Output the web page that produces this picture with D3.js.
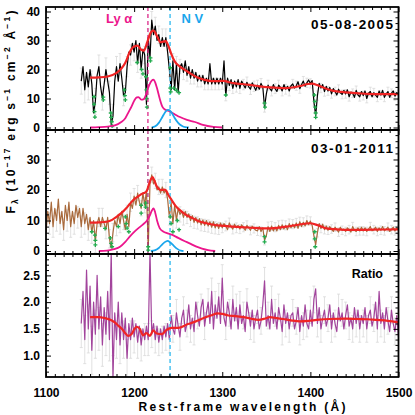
<!DOCTYPE html>
<html>
<head>
  <meta charset="utf-8">
  <script src="https://d3js.org/d3.v7.min.js"></script>
  <style>
    body { margin: 0; background: #fff; }
    svg text { font-family: "Liberation Sans", Arial, Helvetica, sans-serif; font-weight: bold; }
  </style>
</head>
<body>
  <svg id="chart" width="415" height="415"></svg>
  <script>
    // ---------------- data ----------------
    const xTicks = [1100, 1200, 1300, 1400, 1500];
    const yTicks05 = [0, 10, 20, 30, 40];
    const yTicks11 = [0, 10, 20, 30];
    const yTicksRatio = [1.0, 1.5, 2.0, 2.5];

    const lyaWave = 1215.67;
    const nvWave = 1240.81;

    // 2005 spectrum, 1140..1500 every 2 A
    const flux05 = [
      16, 21, 13, 19, 14, 20, 15, 5, 9, 18,
      21, 14, 10, 15, 20, 16, 12, 1, 4, 16,
      21, 16, 22, 17, 11, 12, 21, 26, 25, 29,
      26, 30, 22, 29, 20, 27, 25, 8, 31, 24,
      37, 32, 35, 30, 32, 28, 31, 28, 31, 26,
      20, 13, 23, 13, 22, 12, 21, 22, 19, 23,
      18, 21, 17, 20, 17, 19, 16, 18, 16, 18,
      15, 17, 15, 22, 15, 17, 15, 17, 15, 17,
      15, 23, 11, 17, 14.5, 16.5, 13.5, 16, 14, 16.5,
      13.5, 16, 14.8, 13.6, 15.6, 14, 13.2, 15.4, 14.2, 12.8,
      14.6, 13.2, 15.2, 14, 7, 11.5, 14.6, 13.4, 12.6, 14.8,
      13.4, 12.4, 14.6, 13.8, 12.6, 14.8, 13.2, 14.2, 12.6, 14.4,
      15, 13.6, 14.4, 15.8, 13.4, 14.8, 16, 14.2, 15.4, 16.4,
      15.2, 16.2, 9, 4, 11, 15.2, 13.6, 14.8, 12.4, 14.2,
      12.6, 13.8, 11.6, 13.4, 12.4, 11.2, 13.2, 12, 11.4, 12.8,
      11.6, 13, 10.6, 12.2, 11.8, 10.4, 12.8, 11.2, 10.6, 12.4,
      11, 12.6, 10, 11.8, 12.4, 10.6, 12, 11.2, 10.4, 12.6,
      11.2, 12.8, 10.4, 11.6, 12.4, 10.4, 11.8, 12.6, 10.8, 12, 11.2
    ];
    // 2011 spectrum, 1100..1500 every 2 A
    const flux11 = [
      6, 13, 9, 16, 8, 14, 10, 17, 9, 13,
      7, 15, 10, 16, 8, 13, 9, 15, 11, 14,
      8, 14, 9, 12, 7, 11, 6, 10, 3, 9,
      11, 8, 11, 9, 7, 11, 4, 1, 6, 10,
      8, 12, 9, 13, 10, 7, 12, 8, 16, 14,
      18, 15, 19, 16, 14, 19, 15, 20, 1, 22,
      25, 22, 23, 20, 21, 19, 21, 19, 20, 17,
      11, 16, 9, 15, 10, 14, 12, 13, 11, 13,
      11, 12.2, 10, 11.6, 9.4, 11, 9.2, 10.6, 8.6, 10.2,
      8.4, 10, 8.2, 9.6, 7.8, 9.6, 7.6, 9, 7.4, 9.2,
      7.6, 9, 8.2, 7, 9.2, 8, 7.2, 8.8, 7.6, 8.4,
      7.2, 8.6, 7.8, 6.8, 8.4, 7.6, 6.8, 8.2, 7.4, 6.8,
      6.6, 8, 6.4, 7.6, 3.5, 5, 8, 6.4, 8.2, 6.6,
      7.8, 6.6, 8.4, 7, 8.6, 7.2, 8.4, 7, 9, 7.6,
      8.8, 7.6, 9.2, 7.4, 9.6, 8, 9.4, 8.2, 10, 8.6,
      9.8, 8.4, 5, 2, 6, 9, 7.4, 8.8, 7, 8.2,
      6.8, 8, 7.2, 6.4, 7.8, 7, 6.2, 7.8, 6.8, 7.2,
      6.4, 7.6, 7, 6.2, 8, 6.8, 6.4, 7.6, 6.6, 7.8,
      6.6, 7.6, 6.4, 7.2, 8, 6.6, 7, 7.8, 6.4, 7.6,
      6.8, 8, 6.6, 7.2, 7.8, 6.4, 7, 7.8, 6.6, 7.6, 7
    ];
    // ratio 2011/2005, 1140..1500 every 2 A
    const ratio = [
      1.6, 2.2, 1.3, 2.6, 1.5, 2.3, 1.1, 2.0, 1.4, 2.5,
      1.5, 2.1, 1.2, 1.9, 1.4, 2.2, 1.3, 2.95, 0.6, 1.8,
      1.3, 2.0, 1.2, 1.8, 1.3, 1.7, 0.95, 1.6, 1.3, 1.7,
      1.35, 1.6, 1.25, 1.55, 1.2, 1.5, 1.3, 1.55, 1.3, 2.95,
      1.4, 1.6, 1.3, 1.55, 1.25, 1.5, 1.3, 1.55, 1.35, 1.6,
      1.3, 1.75, 1.5, 1.4, 1.8, 1.55, 1.35, 1.7, 1.85, 1.45,
      1.6, 1.95, 1.5, 1.7, 1.45, 2.0, 1.75, 1.55, 1.9, 2.05,
      1.55, 1.8, 2.0, 1.6, 2.2, 1.5, 1.95, 1.7, 2.1, 1.6,
      2.45, 1.7, 1.55, 2.0, 1.8, 1.5, 2.05, 1.65, 1.9, 1.5,
      1.95, 1.6, 1.75, 1.45, 2.0, 1.8, 1.55, 1.85, 1.5, 1.7,
      1.85, 1.5, 1.65, 1.95, 2.4, 1.55, 1.75, 1.5, 2.05, 1.6,
      1.8, 1.5, 1.9, 1.7, 1.45, 1.95, 1.6, 1.8, 1.5, 1.75,
      1.8, 1.5, 1.65, 1.9, 1.45, 1.75, 1.55, 1.95, 1.6, 1.5,
      1.85, 1.55, 2.05, 2.25, 1.6, 1.9, 1.5, 1.7, 1.85, 1.55,
      1.7, 1.95, 1.5, 1.8, 1.6, 1.45, 1.9, 1.65, 1.8, 1.5,
      1.75, 1.95, 1.55, 1.7, 1.5, 1.9, 1.6, 1.85, 1.5, 1.75,
      1.6, 1.9, 1.5, 1.75, 1.85, 1.55, 1.7, 2.0, 1.5, 2.2,
      1.6, 1.8, 1.5, 1.9, 1.65, 1.45, 1.85, 1.6, 1.45, 1.75, 1.35
    ];

    // errors per 20 A bin
    const err05 = [4.5, 4, 3.5, 3, 3, 2.5, 2, 2, 1.8, 1.8, 1.7, 1.7, 1.6, 1.6, 1.5, 1.5, 1.5, 1.5, 1.5];
    const err11 = [3.5, 3.5, 3.5, 3, 3, 2.5, 2.5, 2.5, 2, 2, 1.6, 1.5, 1.5, 1.5, 1.5, 1.4, 1.4, 1.4, 1.4, 1.4, 1.4];
    const errRatio = [0.45, 0.4, 0.35, 0.3, 0.25, 0.25, 0.25, 0.25, 0.25, 0.25, 0.25, 0.25, 0.25, 0.25, 0.25, 0.25, 0.25, 0.25, 0.3];

    // red model fits
    const fitWave05 = [1150, 1160, 1170, 1180, 1186, 1190, 1195, 1200, 1204, 1208, 1211, 1215, 1219, 1222, 1226, 1230, 1233, 1236, 1239, 1242, 1246, 1252, 1258, 1264, 1272, 1280, 1288, 1296, 1302, 1308, 1315, 1322, 1331, 1340, 1350, 1362, 1373, 1382, 1390, 1397, 1402, 1408, 1416, 1425, 1435, 1445, 1455, 1465, 1480, 1500];
    const fitFlux05 = [17.2, 17.3, 17.6, 18.8, 20.5, 22.3, 26.0, 27.9, 28.2, 26.8, 26.5, 29.5, 32.8, 33.4, 31.5, 29.4, 29.6, 29.8, 28.0, 25.5, 22.8, 21.0, 19.8, 18.6, 17.2, 16.4, 16.0, 16.0, 16.1, 15.6, 15.2, 15.0, 14.7, 14.3, 13.9, 13.7, 13.6, 13.9, 14.4, 15.0, 15.1, 14.6, 13.6, 12.7, 12.3, 12.0, 11.8, 11.6, 11.5, 11.5];
    const fitWave11 = [1150, 1160, 1169, 1175, 1180, 1186, 1191, 1195, 1199, 1203, 1207, 1211, 1214, 1217, 1219, 1221, 1223, 1225.5, 1228, 1231, 1234, 1236, 1239, 1242.6, 1247, 1252, 1258, 1267, 1275, 1282, 1290, 1298, 1312, 1330, 1350, 1362, 1373, 1388, 1399, 1408, 1418, 1430, 1445, 1470, 1500];
    const fitFlux11 = [9.3, 9.4, 9.6, 10.2, 11.2, 12.6, 14.0, 15.4, 16.7, 17.6, 18.4, 19.0, 19.5, 22.0, 23.5, 24.2, 23.0, 21.3, 20.3, 20.0, 20.1, 19.9, 18.3, 16.7, 14.8, 13.4, 12.0, 10.7, 9.6, 9.1, 8.6, 8.3, 8.0, 7.7, 7.4, 7.6, 8.0, 8.7, 9.1, 8.5, 7.4, 7.1, 6.9, 7.0, 7.1];
    const fitWaveRatio = [1150, 1160, 1167, 1173, 1178, 1182, 1186, 1190, 1193, 1197, 1200, 1203, 1206.5, 1210, 1214, 1218, 1221.6, 1225, 1231, 1236.8, 1242, 1250, 1261, 1270, 1277, 1287, 1295, 1300, 1307, 1315, 1324, 1333, 1341, 1348, 1354, 1362, 1369, 1378, 1388, 1398, 1407, 1422, 1440, 1453, 1465, 1475, 1488, 1500];
    const fitRatio = [1.72, 1.72, 1.70, 1.67, 1.62, 1.56, 1.50, 1.42, 1.37, 1.40, 1.49, 1.54, 1.50, 1.38, 1.42, 1.37, 1.47, 1.42, 1.40, 1.48, 1.52, 1.52, 1.59, 1.64, 1.69, 1.75, 1.79, 1.78, 1.75, 1.74, 1.72, 1.69, 1.67, 1.69, 1.72, 1.70, 1.685, 1.66, 1.64, 1.65, 1.667, 1.685, 1.69, 1.685, 1.68, 1.667, 1.65, 1.62];

    // Ly alpha (pink) and N V (blue) components
    const lyaWave05 = [1150, 1160, 1170, 1178, 1185, 1190, 1194, 1197, 1200, 1203, 1205, 1208, 1211, 1214, 1217, 1220, 1222, 1224, 1226, 1229, 1232, 1235, 1240, 1246, 1252, 1260, 1269, 1278, 1290, 1300];
    const lyaFlux05 = [0, 0.1, 0.3, 0.7, 1.8, 3.2, 5.5, 7.2, 9.2, 10.4, 10.5, 9.6, 9.8, 11.8, 14.5, 16.2, 16.5, 15.5, 13.5, 10.0, 7.2, 6.2, 5.6, 4.6, 3.6, 2.6, 1.9, 0.9, 0.2, 0];
    const nvWave05 = [1220, 1224, 1228, 1232, 1235, 1238, 1240, 1243, 1246, 1250, 1254, 1258, 1262];
    const nvFlux05 = [0, 0.4, 1.6, 3.6, 5.2, 6.1, 6.0, 4.9, 3.3, 1.6, 0.6, 0.1, 0];
    const lyaWave11 = [1160, 1169, 1177, 1184, 1190, 1195, 1201, 1207, 1212, 1215, 1218, 1220, 1222, 1224, 1226, 1229, 1233, 1238, 1244, 1250, 1257, 1263, 1270, 1277, 1284, 1292];
    const lyaFlux11 = [0, 0.1, 0.6, 1.4, 3.0, 4.7, 6.5, 8.0, 9.2, 10.2, 11.8, 13.2, 14.0, 12.5, 10.0, 7.5, 6.4, 5.8, 5.2, 4.3, 3.3, 2.5, 1.5, 0.8, 0.3, 0];
    const nvWave11 = [1219, 1224, 1228, 1232, 1236, 1238, 1241, 1245, 1249, 1253, 1256];
    const nvFlux11 = [0, 0.3, 1.0, 2.2, 3.1, 3.3, 2.8, 1.7, 0.7, 0.1, 0];

    // masked absorption pixels (green)
    const maskWave05 = [1154.5, 1154.5, 1155, 1155.5, 1165, 1165, 1173.5, 1174, 1174.5, 1175, 1189, 1189.5, 1190, 1203.5, 1208.5, 1210, 1213.5, 1214, 1214, 1214.5, 1218.5, 1218.5, 1241, 1241, 1241.5, 1245, 1248, 1251, 1304, 1348, 1348.5, 1404.5, 1405, 1405.5, 1406, 1406];
    const maskFlux05 = [10.6, 8.0, 5.5, 3.6, 10.5, 9.5, 5, 3.5, 2, 0.5, 13, 11, 9.5, 22.4, 20, 18.5, 17.5, 13, 10, 7, 24, 23, 20.6, 13.6, 12.3, 13.6, 12.8, 12, 11.2, 8.4, 7, 11.2, 9, 7, 5, 3.5];
    const maskWave11 = [1152, 1155.5, 1156, 1156, 1167, 1173, 1174, 1175, 1182, 1190, 1191, 1192, 1194, 1208, 1208, 1213, 1213, 1216, 1216, 1241, 1242, 1244, 1249, 1251, 1348, 1348, 1405, 1405, 1405.5];
    const maskFlux11 = [6.3, 5.2, 3.5, 2, 7.4, 4.3, 2.5, 1.4, 8, 11.2, 9, 7.5, 6.3, 15, 12.4, 15.7, 14.4, 1.4, 0.3, 11.2, 9, 6.3, 10, 7, 4.7, 3, 6.3, 4, 1.4];

    // ---------------- layout ----------------
    const svg = d3.select("#chart");
    const x = d3.scaleLinear().domain([1100, 1500]).range([46, 398.5]);

    const y05 = d3.scaleLinear().domain([-0.86, 41.55]).range([130, 7]);
    const y11 = d3.scaleLinear().domain([-0.98, 39.67]).range([254, 130]);
    const yRat = d3.scaleLinear().domain([0.6, 2.9]).range([377, 254]);

    const wave05 = d3.range(1140, 1501, 2);
    const wave11 = d3.range(1100, 1501, 2);

    const colors = {
      black: "#000", brown: "#a96a3c", purple: "#a2449c", red: "#f02424",
      pink: "#ec168c", blue: "#1aa6ec", dashBlue: "#55c6f2", green: "#22ac4e", err: "#d9d9d9"
    };

    function addClip(id, y) {
      svg.append("clipPath").attr("id", id)
        .append("rect")
        .attr("x", x.range()[0]).attr("y", y.range()[1])
        .attr("width", x.range()[1] - x.range()[0])
        .attr("height", y.range()[0] - y.range()[1]);
      return svg.append("g").attr("clip-path", `url(#${id})`);
    }

    function errorBars(g, wave, flux, errs, start, y) {
      const pts = wave.map((w, i) => [w, flux[i], errs[Math.min(errs.length - 1, Math.floor((w - start) / 20))]])
        .filter((d, i) => i % 2 === 0);
      const eg = g.append("g").attr("stroke", colors.err).attr("stroke-width", 0.8);
      pts.forEach(d => {
        const px = x(d[0]);
        const y1 = y(d[1] - d[2]), y2 = y(d[1] + d[2]);
        eg.append("line").attr("x1", px).attr("x2", px).attr("y1", y1).attr("y2", y2);
        eg.append("line").attr("x1", px - 1.5).attr("x2", px + 1.5).attr("y1", y1).attr("y2", y1);
        eg.append("line").attr("x1", px - 1.5).attr("x2", px + 1.5).attr("y1", y2).attr("y2", y2);
      });
    }

    function drawLine(g, wave, vals, y, color, width, smooth) {
      const line = d3.line().x(d => x(d[0])).y(d => y(d[1]));
      if (smooth) line.curve(d3.curveMonotoneX);
      g.append("path")
        .datum(wave.map((w, i) => [w, vals[i]]))
        .attr("fill", "none").attr("stroke", color)
        .attr("stroke-width", width).attr("stroke-linejoin", "round")
        .attr("d", line);
    }

    function drawMask(g, wave, vals, y) {
      const sym = d3.symbol().type(d3.symbolCross).size(9);
      wave.forEach((w, i) => {
        g.append("path").attr("d", sym)
          .attr("transform", `translate(${x(w)},${y(vals[i])})`)
          .attr("fill", colors.green);
      });
    }

    function vLine(g, w, y, color, width) {
      g.append("line")
        .attr("x1", x(w)).attr("x2", x(w))
        .attr("y1", y.range()[1]).attr("y2", y.range()[0])
        .attr("stroke", color).attr("stroke-width", width)
        .attr("stroke-dasharray", "4,3");
    }

    function frame(y, major, minor, fmt, xLabels) {
      const top = y.range()[1], bottom = y.range()[0];
      const left = x.range()[0], right = x.range()[1];
      const xMinor = d3.range(1110, 1500, 10).filter(v => v % 100 !== 0);
      const g = svg.append("g");

      g.append("g").attr("transform", `translate(${left},0)`)
        .call(d3.axisLeft(y).tickValues(minor).tickSize(-3).tickFormat(""));
      g.append("g").attr("transform", `translate(${left},0)`)
        .call(d3.axisLeft(y).tickValues(major).tickSize(-5).tickPadding(6).tickFormat(fmt));
      g.append("g").attr("transform", `translate(${right},0)`)
        .call(d3.axisRight(y).tickValues(minor).tickSize(-3).tickFormat(""));
      g.append("g").attr("transform", `translate(${right},0)`)
        .call(d3.axisRight(y).tickValues(major).tickSize(-5).tickFormat(""));

      g.append("g").attr("transform", `translate(0,${top})`)
        .call(d3.axisTop(x).tickValues(xMinor).tickSize(-3).tickFormat(""));
      g.append("g").attr("transform", `translate(0,${top})`)
        .call(d3.axisTop(x).tickValues(xTicks).tickSize(-5).tickFormat(""));
      g.append("g").attr("transform", `translate(0,${bottom})`)
        .call(d3.axisBottom(x).tickValues(xMinor).tickSize(-3).tickFormat(""));
      g.append("g").attr("transform", `translate(0,${bottom})`)
        .call(d3.axisBottom(x).tickValues(xTicks).tickSize(-5).tickPadding(11)
          .tickFormat(xLabels ? d3.format("d") : ""));

      g.selectAll(".domain").remove();
      g.selectAll(".tick line").attr("stroke", "#000").attr("stroke-width", 1);
      g.selectAll(".tick text")
        .attr("font-family", "Liberation Sans, Arial, sans-serif")
        .attr("font-size", 12).attr("fill", "#000");

      g.append("rect")
        .attr("x", left).attr("y", top)
        .attr("width", right - left).attr("height", bottom - top)
        .attr("fill", "none").attr("stroke", "#000").attr("stroke-width", 1.8);
    }

    // ---------------- panel 1: 2005 ----------------
    const p1 = addClip("clip1", y05);
    errorBars(p1, wave05, flux05, err05, 1140, y05);
    drawLine(p1, wave05, flux05, y05, colors.black, 1.2, false);
    vLine(p1, lyaWave, y05, "#d8157f", 1.2);
    vLine(p1, nvWave, y05, colors.dashBlue, 1.6);
    drawMask(p1, maskWave05, maskFlux05, y05);
    drawLine(p1, lyaWave05, lyaFlux05, y05, colors.pink, 1.8, true);
    drawLine(p1, nvWave05, nvFlux05, y05, colors.blue, 1.8, true);
    drawLine(p1, fitWave05, fitFlux05, y05, colors.red, 2.2, true);

    // ---------------- panel 2: 2011 ----------------
    const p2 = addClip("clip2", y11);
    errorBars(p2, wave11, flux11, err11, 1100, y11);
    drawLine(p2, wave11, flux11, y11, colors.brown, 1.2, false);
    vLine(p2, lyaWave, y11, "#a8186c", 1.2);
    vLine(p2, nvWave, y11, colors.dashBlue, 1.6);
    drawMask(p2, maskWave11, maskFlux11, y11);
    drawLine(p2, lyaWave11, lyaFlux11, y11, colors.pink, 1.8, true);
    drawLine(p2, nvWave11, nvFlux11, y11, colors.blue, 1.8, true);
    drawLine(p2, fitWave11, fitFlux11, y11, colors.red, 2.2, true);

    // ---------------- panel 3: ratio ----------------
    const p3 = addClip("clip3", yRat);
    errorBars(p3, wave05, ratio, errRatio, 1140, yRat);
    drawLine(p3, wave05, ratio, yRat, colors.purple, 1.2, false);
    vLine(p3, nvWave, yRat, colors.dashBlue, 1.6);
    drawLine(p3, fitWaveRatio, fitRatio, yRat, colors.red, 2.2, true);

    frame(y05, yTicks05, d3.range(2, 41, 2).filter(v => v % 10 !== 0), d3.format("d"), false);
    frame(y11, yTicks11, d3.range(2, 39, 2).filter(v => v % 10 !== 0), d3.format("d"), false);
    frame(yRat, yTicksRatio, d3.range(0.7, 2.85, 0.1).filter(v => Math.abs(v * 2 - Math.round(v * 2)) > 0.05), d3.format(".1f"), true);

    // ---------------- labels ----------------
    svg.append("text").attr("x", 106).attr("y", 23.3)
      .attr("font-size", 13).attr("fill", colors.pink).text("Ly α");
    svg.append("text").attr("x", 181.5).attr("y", 23.3)
      .attr("font-size", 13).attr("fill", colors.blue).text("N V");

    svg.append("text").attr("x", 393).attr("y", 29.3).attr("text-anchor", "end")
      .attr("font-size", 13.5).attr("textLength", 82).attr("lengthAdjust", "spacing")
      .text("05-08-2005");
    svg.append("text").attr("x", 393).attr("y", 153.3).attr("text-anchor", "end")
      .attr("font-size", 13.5).attr("textLength", 82).attr("lengthAdjust", "spacing")
      .text("03-01-2011");
    svg.append("text").attr("x", 383).attr("y", 278.3).attr("text-anchor", "end")
      .attr("font-size", 12.5).text("Ratio");

    svg.append("text").attr("x", 242).attr("y", 410.5).attr("text-anchor", "middle")
      .attr("font-size", 12).attr("textLength", 207).attr("lengthAdjust", "spacing")
      .text("Rest-frame wavelength (Å)");

    const yTitle = svg.append("text")
      .attr("transform", "translate(15,112) rotate(-90)")
      .attr("text-anchor", "middle").attr("font-size", 12)
      .attr("textLength", 203).attr("lengthAdjust", "spacing");
    yTitle.append("tspan").text("F");
    yTitle.append("tspan").attr("font-size", 8.5).attr("dy", 3).text("λ");
    yTitle.append("tspan").attr("dy", -3).text(" (10");
    yTitle.append("tspan").attr("font-size", 8.5).attr("dy", -5).text("−17");
    yTitle.append("tspan").attr("dy", 5).text(" erg s");
    yTitle.append("tspan").attr("font-size", 8.5).attr("dy", -5).text("−1");
    yTitle.append("tspan").attr("dy", 5).text(" cm");
    yTitle.append("tspan").attr("font-size", 8.5).attr("dy", -5).text("−2");
    yTitle.append("tspan").attr("dy", 5).text(" Å");
    yTitle.append("tspan").attr("font-size", 8.5).attr("dy", -5).text("−1");
    yTitle.append("tspan").attr("dy", 5).text(")");
  </script>
</body>
</html>
